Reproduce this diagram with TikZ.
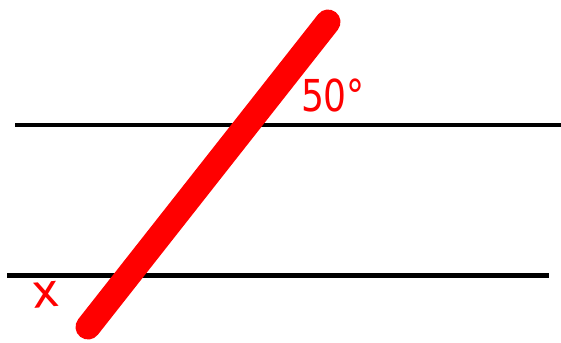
\documentclass[tikz,border=0pt]{standalone}
\usepackage{fontspec}
\setmainfont{DejaVu Sans}
\definecolor{pred}{RGB}{255,0,0}
\begin{document}
\begin{tikzpicture}[x=1pt,y=-1pt,
  parline/.style={line width=4.2pt,black},
  transversal/.style={line width=25pt,pred,line cap=round},
  lbl/.style={text=pred,inner sep=0pt}]
\useasboundingbox (0,0) rectangle (561,342);
\coordinate (t1) at (15,125);
\coordinate (t2) at (561,125);
\coordinate (b1) at (7,275.5);
\coordinate (b2) at (549,275.5);
\coordinate (rtop) at (328,22);
\coordinate (rbot) at (88,327);
\draw[parline] (t1) -- (t2);
\draw[parline] (b1) -- (b2);
\draw[transversal] (rbot) -- (rtop);
\node[lbl,font=\fontsize{44}{44}\selectfont,xscale=0.82] (ang) at (333,95) {50°};
\node[lbl,font=\fontsize{46}{46}\selectfont,rotate=5] (x) at (46,295) {x};
\end{tikzpicture}
\end{document}
